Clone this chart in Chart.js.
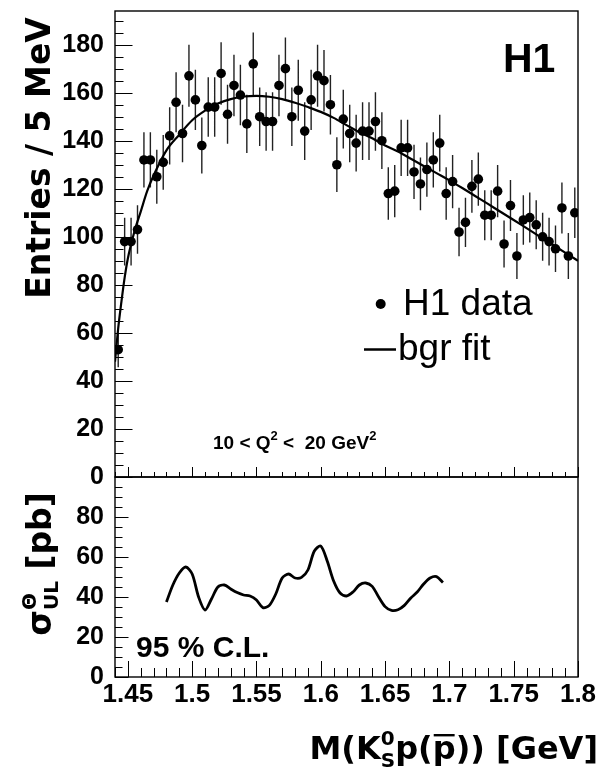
<!DOCTYPE html>
<html>
<head>
<meta charset="utf-8">
<script src="https://cdn.jsdelivr.net/npm/chart.js@4.4.0/dist/chart.umd.min.js"></script>
<style>
  body { margin: 0; background: #fff; width: 600px; height: 767px; position: relative; overflow: hidden; }
  #topChart { position: absolute; left: 0; top: 0; }
  #bottomChart { position: absolute; left: 0; top: 460px; }
</style>
</head>
<body>
<canvas id="topChart" width="600" height="500"></canvas>
<canvas id="bottomChart" width="600" height="307"></canvas>
<script>
// bin centres (5 MeV bins) and entries
const massBins = [
  1.4425, 1.4475, 1.4525, 1.4575, 1.4625, 1.4675, 1.4725, 1.4775, 1.4825, 1.4875,
  1.4925, 1.4975, 1.5025, 1.5075, 1.5125, 1.5175, 1.5225, 1.5275, 1.5325, 1.5375,
  1.5425, 1.5475, 1.5525, 1.5575, 1.5625, 1.5675, 1.5725, 1.5775, 1.5825, 1.5875,
  1.5925, 1.5975, 1.6025, 1.6075, 1.6125, 1.6175, 1.6225, 1.6275, 1.6325, 1.6375,
  1.6425, 1.6475, 1.6525, 1.6575, 1.6625, 1.6675, 1.6725, 1.6775, 1.6825, 1.6875,
  1.6925, 1.6975, 1.7025, 1.7075, 1.7125, 1.7175, 1.7225, 1.7275, 1.7325, 1.7375,
  1.7425, 1.7475, 1.7525, 1.7575, 1.7625, 1.7675, 1.7725, 1.7775, 1.7825, 1.7875,
  1.7925, 1.7975
];
const entries = [
  53, 98, 98, 103, 132, 132, 125, 131, 142, 156,
  143, 167, 157, 138, 154, 154, 168, 151, 163, 159,
  147, 172, 150, 148, 148, 163, 170, 150, 161, 144,
  157, 167, 165, 155, 130, 149, 143, 139, 144, 144,
  148, 140, 118, 119, 137, 137, 127, 122, 128, 132,
  139, 118, 123, 102, 106, 121, 124, 109, 109, 119,
  97, 113, 92, 107, 108, 105, 100, 98, 95, 112,
  92, 110
];
const entriesErr = [
  7.3, 9.9, 9.9, 10.1, 11.5, 11.5, 11.2, 11.4, 11.9, 12.5,
  12.0, 12.9, 12.5, 11.7, 12.4, 12.4, 13.0, 12.3, 12.8, 12.6,
  12.1, 13.1, 12.2, 12.2, 12.2, 12.8, 13.0, 12.2, 12.7, 12.0,
  12.5, 12.9, 12.8, 12.4, 11.4, 12.2, 12.0, 11.8, 12.0, 12.0,
  12.2, 11.8, 10.9, 10.9, 11.7, 11.7, 11.3, 11.0, 11.3, 11.5,
  11.8, 10.9, 11.1, 10.1, 10.3, 11.0, 11.1, 10.4, 10.4, 10.9,
  9.8, 10.6, 9.6, 10.3, 10.4, 10.2, 10.0, 9.9, 9.7, 10.6,
  9.6, 10.5
];

// background fit curve
const fitMass = [
  1.44, 1.4425, 1.445, 1.4475, 1.45, 1.455, 1.46, 1.465, 1.47, 1.48,
  1.49, 1.50, 1.51, 1.52, 1.53, 1.54, 1.55, 1.56, 1.57, 1.58,
  1.59, 1.60, 1.61, 1.62, 1.63, 1.64, 1.65, 1.66, 1.67, 1.68,
  1.69, 1.70, 1.71, 1.72, 1.73, 1.74, 1.75, 1.76, 1.77, 1.78,
  1.79, 1.80
];
const fitEntries = [
  48, 62, 73, 83, 91, 102, 110.5, 119, 125.5, 136,
  142.5, 148.5, 152.5, 155.5, 157.3, 158.4, 158.7, 158.3, 157.3, 155.8,
  154, 152, 149.5, 146.5, 143.5, 141, 138, 135.5, 132.5, 129.5,
  126.5, 123.5, 120.3, 117, 113.7, 110.3, 107, 103.6, 100.2, 96.8,
  93.4, 90
];

// upper limit cross section, lower panel
const ulMass = [
  1.480, 1.485, 1.490, 1.495, 1.500, 1.505, 1.510, 1.515, 1.520, 1.525,
  1.530, 1.535, 1.540, 1.545, 1.550, 1.555, 1.560, 1.565, 1.570, 1.575,
  1.580, 1.585, 1.590, 1.595, 1.600, 1.605, 1.610, 1.615, 1.620, 1.625,
  1.630, 1.635, 1.640, 1.645, 1.650, 1.655, 1.660, 1.665, 1.670, 1.675,
  1.680, 1.685, 1.690, 1.695
];
const ulSigma = [
  37.5, 46, 52, 55, 51.5, 40, 33.5, 39, 45, 46,
  44, 42.2, 41, 40.5, 38.5, 34.7, 35.8, 41.5, 49.5, 51.5,
  49.5, 49.8, 53.5, 63, 65.5, 58, 48, 42, 40.5, 42.5,
  46, 47, 45.3, 40, 35.2, 33.3, 33.6, 35.8, 39.5, 42.5,
  46.5, 49.5, 50.2, 47.2
];

const entriesTicks = [0, 20, 40, 60, 80, 100, 120, 140, 160, 180];
const sigmaTicks = [0, 20, 40, 60, 80];
const massTicks = [1.45, 1.5, 1.55, 1.6, 1.65, 1.7, 1.75, 1.8];
const massTickLabels = ['1.45', '1.5', '1.55', '1.6', '1.65', '1.7', '1.75', '1.8'];

const TICK_FONT = { family: 'Liberation Sans', size: 25, weight: 'bold' };

// draws text pieces with super/subscripts; stack = same x as the previous piece
function drawRich(ctx, parts, x, y, family, align) {
  const placed = [];
  let cx = 0, prevStart = 0, prevW = 0;
  parts.forEach(p => {
    ctx.font = 'bold ' + p.size + 'px ' + family;
    const w = ctx.measureText(p.t).width;
    let start = cx;
    if (p.stack) {
      start = prevStart;
      cx = prevStart + Math.max(prevW, w);
    } else {
      cx = start + w;
    }
    placed.push({ p, start, w });
    prevStart = start;
    prevW = w;
  });
  const x0 = align === 'right' ? x - cx : align === 'center' ? x - cx / 2 : x;
  ctx.textAlign = 'left';
  ctx.textBaseline = 'alphabetic';
  placed.forEach(({ p, start, w }) => {
    ctx.font = 'bold ' + p.size + 'px ' + family;
    ctx.fillText(p.t, x0 + start, y + (p.dy || 0));
    if (p.over) ctx.fillRect(x0 + start + 1, y - p.over, w - 2, 2.4);
  });
}

// error bars from the entries arrays
const errorBars = {
  id: 'errorBars',
  beforeDatasetsDraw(chart) {
    const { ctx, scales: { x, y } } = chart;
    ctx.save();
    ctx.strokeStyle = '#222';
    ctx.lineWidth = 1.4;
    ctx.beginPath();
    massBins.forEach((m, i) => {
      const px = x.getPixelForValue(m);
      ctx.moveTo(px, y.getPixelForValue(entries[i] - entriesErr[i]));
      ctx.lineTo(px, y.getPixelForValue(entries[i] + entriesErr[i]));
    });
    ctx.stroke();
    ctx.restore();
  }
};

// ROOT style frame with inward ticks
const frameTicks = {
  id: 'frameTicks',
  afterDraw(chart, args, o) {
    const { ctx, chartArea: a, scales: { x, y } } = chart;
    ctx.save();
    ctx.strokeStyle = '#000';
    ctx.lineWidth = 1;
    ctx.beginPath();
    for (let v = 0; v <= o.yMax; v += 5) {
      const py = Math.round(y.getPixelForValue(v)) + 0.5;
      const len = v % 20 === 0 ? o.yMajor : o.yMinor;
      ctx.moveTo(a.left, py);
      ctx.lineTo(a.left + len, py);
    }
    for (let i = 144; i <= 180; i++) {
      const px = Math.round(x.getPixelForValue(i / 100)) + 0.5;
      const len = i % 5 === 0 ? o.xMajor : o.xMinor;
      ctx.moveTo(px, a.bottom);
      ctx.lineTo(px, a.bottom - len);
    }
    ctx.stroke();
    ctx.lineWidth = 1.4;
    ctx.strokeRect(a.left, a.top, a.right - a.left, a.bottom - a.top);
    ctx.restore();
  }
};

const topLabels = {
  id: 'topLabels',
  afterDraw(chart) {
    const ctx = chart.ctx;
    ctx.save();
    ctx.fillStyle = '#000';
    ctx.strokeStyle = '#000';
    ctx.textAlign = 'left';
    ctx.textBaseline = 'alphabetic';

    ctx.font = "bold 41px 'Liberation Sans'";
    ctx.fillText('H1', 503, 72);

    // legend
    ctx.beginPath();
    ctx.arc(380.7, 304, 5, 0, Math.PI * 2);
    ctx.fill();
    ctx.font = "37px 'Liberation Sans'";
    ctx.fillText('H1 data', 403, 315);
    ctx.lineWidth = 2.5;
    ctx.beginPath();
    ctx.moveTo(364, 349.5);
    ctx.lineTo(396, 349.5);
    ctx.stroke();
    ctx.fillText('bgr fit', 398, 360);

    drawRich(ctx, [
      { t: '10 < Q', size: 19 },
      { t: '2', size: 13, dy: -9 },
      { t: ' <  20 GeV', size: 19 },
      { t: '2', size: 13, dy: -9 }
    ], 213, 449, "'Liberation Sans'", 'left');

    ctx.translate(50, 158);
    ctx.rotate(-Math.PI / 2);
    drawRich(ctx, [{ t: 'Entries / 5 MeV', size: 33 }], 0, 0, "'DejaVu Sans'", 'center');
    ctx.restore();
  }
};

const bottomLabels = {
  id: 'bottomLabels',
  afterDraw(chart) {
    const ctx = chart.ctx;
    ctx.save();
    ctx.fillStyle = '#000';
    ctx.font = "bold 30px 'Liberation Sans'";
    ctx.textAlign = 'left';
    ctx.textBaseline = 'alphabetic';
    ctx.fillText('95 % C.L.', 136, 197);

    drawRich(ctx, [
      { t: 'M(K', size: 32 },
      { t: '0', size: 20, dy: -14 },
      { t: 'S', size: 20, dy: 8, stack: true },
      { t: 'p(', size: 32 },
      { t: 'p', size: 32, over: 25 },
      { t: ')) [GeV]', size: 32 }
    ], 598, 299, "'DejaVu Sans'", 'right');

    ctx.translate(51, 104);
    ctx.rotate(-Math.PI / 2);
    drawRich(ctx, [
      { t: 'σ', size: 33 },
      { t: 'Θ', size: 20, dy: -15 },
      { t: 'UL', size: 20, dy: 7, stack: true },
      { t: ' [pb]', size: 33 }
    ], 0, 0, "'DejaVu Sans'", 'center');
    ctx.restore();
  }
};

function yAxis(min, max, tickValues) {
  return {
    min: min,
    max: max,
    afterFit: s => { s.width = 115; s.paddingTop = 0; s.paddingBottom = 0; },
    afterBuildTicks: s => { s.ticks = tickValues.map(v => ({ value: v })); },
    grid: { display: false, drawTicks: false },
    border: { display: false },
    ticks: { color: '#000', font: TICK_FONT, padding: 11, callback: v => String(v) }
  };
}

new Chart(document.getElementById('topChart'), {
  type: 'scatter',
  data: {
    datasets: [
      {
        type: 'line',
        label: 'bgr fit',
        data: fitMass.map((m, i) => ({ x: m, y: fitEntries[i] })),
        borderColor: '#000',
        borderWidth: 2.2,
        pointRadius: 0,
        cubicInterpolationMode: 'monotone',
        fill: false
      },
      {
        label: 'H1 data',
        data: massBins.map((m, i) => ({ x: m, y: entries[i] })),
        pointRadius: 4.8,
        backgroundColor: '#000',
        borderWidth: 0
      }
    ]
  },
  options: {
    responsive: false,
    animation: false,
    devicePixelRatio: 1,
    layout: { padding: { left: 0, right: 22, top: 11, bottom: 23 } },
    plugins: {
      legend: { display: false },
      tooltip: { enabled: false },
      frameTicks: { yMax: 190, yMajor: 17.5, yMinor: 8.5, xMajor: 10, xMinor: 5 }
    },
    scales: {
      x: { type: 'linear', min: 1.44, max: 1.8, display: false },
      y: yAxis(0, 194, entriesTicks)
    }
  },
  plugins: [errorBars, frameTicks, topLabels]
});

new Chart(document.getElementById('bottomChart'), {
  type: 'line',
  data: {
    datasets: [{
      label: 'sigma UL',
      data: ulMass.map((m, i) => ({ x: m, y: ulSigma[i] })),
      borderColor: '#000',
      borderWidth: 2.8,
      pointRadius: 0,
      tension: 0.3,
      fill: false
    }]
  },
  options: {
    responsive: false,
    animation: false,
    devicePixelRatio: 1,
    layout: { padding: { left: 0, right: 22, top: 17, bottom: 0 } },
    plugins: {
      legend: { display: false },
      tooltip: { enabled: false },
      frameTicks: { yMax: 100, yMajor: 13.5, yMinor: 7.5, xMajor: 16, xMinor: 9 }
    },
    scales: {
      x: {
        type: 'linear',
        min: 1.44,
        max: 1.8,
        afterFit: s => { s.height = 90; s.paddingLeft = 0; s.paddingRight = 0; },
        afterBuildTicks: s => { s.ticks = massTicks.map(v => ({ value: v })); },
        grid: { display: false, drawTicks: false },
        border: { display: false },
        ticks: {
          color: '#000',
          font: { family: 'Liberation Sans', size: 26, weight: 'bold' },
          padding: 2,
          autoSkip: false,
          maxRotation: 0,
          minRotation: 0,
          callback: (v, i) => massTickLabels[i]
        }
      },
      y: yAxis(0, 100, sigmaTicks)
    }
  },
  plugins: [frameTicks, bottomLabels]
});
</script>
</body>
</html>
